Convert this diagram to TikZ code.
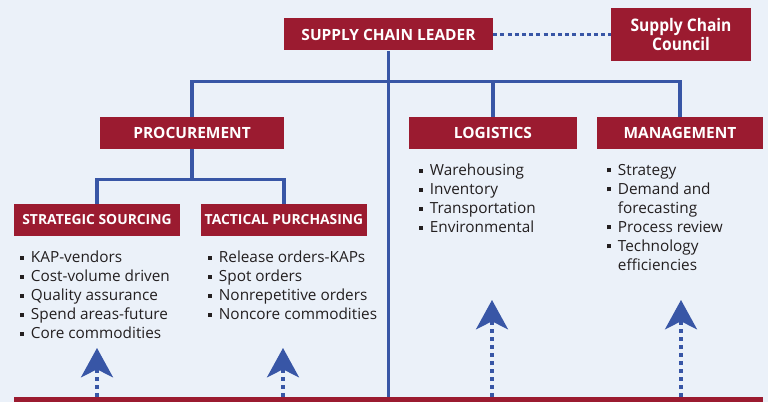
\documentclass[tikz,border=0pt]{standalone}
\usepackage{fontspec}
\setmainfont{Open Sans}
\newfontfamily\condfont[FakeStretch=0.9]{Open Sans}
\usetikzlibrary{arrows.meta,positioning}

\definecolor{scred}{RGB}{155,27,48}
\definecolor{scblue}{RGB}{56,86,166}
\definecolor{scbg}{RGB}{235,241,249}
\definecolor{sctext}{RGB}{35,31,32}

\newcommand{\bul}{\makebox[8pt][l]{\rule[2.3pt]{2.6pt}{3.2pt}}}
\newcommand{\ind}{\hspace*{8pt}}

\begin{document}
\begin{tikzpicture}[
  x=0.75pt, y=-0.75pt,
  head/.style={fill=scred, text=white, inner sep=0pt, minimum height=24pt, font=\bfseries\fontsize{11.6}{13}\selectfont},
  subhead/.style={head, font=\bfseries\fontsize{10.4}{12}\selectfont},
  tophead/.style={head, font=\bfseries\fontsize{11.6}{13}\selectfont},
  councilhead/.style={head, font=\condfont\bfseries\fontsize{13}{14.5}\selectfont, align=center},
  items/.style={anchor=north west, inner sep=0pt, align=left, text=sctext, font=\fontsize{11.5}{14.25}\selectfont},
  tree/.style={draw=scblue, line width=2.4pt},
  link/.style={draw=scblue, line width=2.4pt, dash pattern=on 3pt off 2.4pt},
  upflow/.style={draw=scblue, line width=2.4pt, dash pattern=on 3pt off 3pt,
    -{Stealth[length=22pt, width=24pt, inset=6pt]}}
]
\useasboundingbox[fill=scbg] (0,0) rectangle (768,402);

% Top level
\node[tophead, minimum width=156.75pt] (leader) at (388.5,34.5) {SUPPLY CHAIN LEADER};
\node[councilhead, minimum width=105pt, minimum height=39.75pt] (council) at (681,34.5) {Supply Chain\\Council};
\draw[link] (leader) -- (council);

% Second level
\node[head, minimum width=138pt] (proc) at (192,133) {PROCUREMENT};
\node[head, minimum width=126pt] (logi) at (493,133) {LOGISTICS};
\node[head, minimum width=124.5pt] (mgmt) at (680,133) {MANAGEMENT};

% Procurement branches
\node[subhead, minimum width=124.5pt] (strat) at (97,220) {STRATEGIC SOURCING};
\node[subhead, minimum width=124.5pt] (tact) at (284,220) {TACTICAL PURCHASING};

% Bottom bar
\node[fill=scred, anchor=north west, inner sep=0pt, minimum width=561.75pt, minimum height=15pt] (bar) at (14,397) {};

% Tree lines
\draw[tree] (leader.south) -- (leader.south |- bar.north);
\draw[tree] (proc.north) -- ++(0,-35) -| (mgmt.north);
\draw[tree] (logi.north) -- ++(0,-35);
\draw[tree] (proc.south) -- ++(0,31);
\draw[tree] (strat.north) -- ++(0,-24) -| (tact.north);

% Lists
\node[items] (stratlist) at (20,251) {\bul KAP-vendors\\ \bul Cost-volume driven\\ \bul Quality assurance\\ \bul Spend areas-future\\ \bul Core commodities};
\node[items] (tactlist) at (208,251) {\bul Release orders-KAPs\\ \bul Spot orders\\ \bul Nonrepetitive orders\\ \bul Noncore commodities};
\node[items] (logilist) at (419,164) {\bul Warehousing\\ \bul Inventory\\ \bul Transportation\\ \bul Environmental};
\node[items] (mgmtlist) at (607,164) {\bul Strategy\\ \bul Demand and\\ \ind forecasting\\ \bul Process review\\ \bul Technology\\ \ind efficiencies};

% Upward arrows
\coordinate (tipS) at (97,348);
\coordinate (tipT) at (283,348);
\coordinate (tipL) at (492,300);
\coordinate (tipM) at (681,300);
\foreach \t in {tipS,tipT,tipL,tipM} {
  \draw[upflow] (bar.north -| \t) -- (\t);
}
\end{tikzpicture}
\end{document}
